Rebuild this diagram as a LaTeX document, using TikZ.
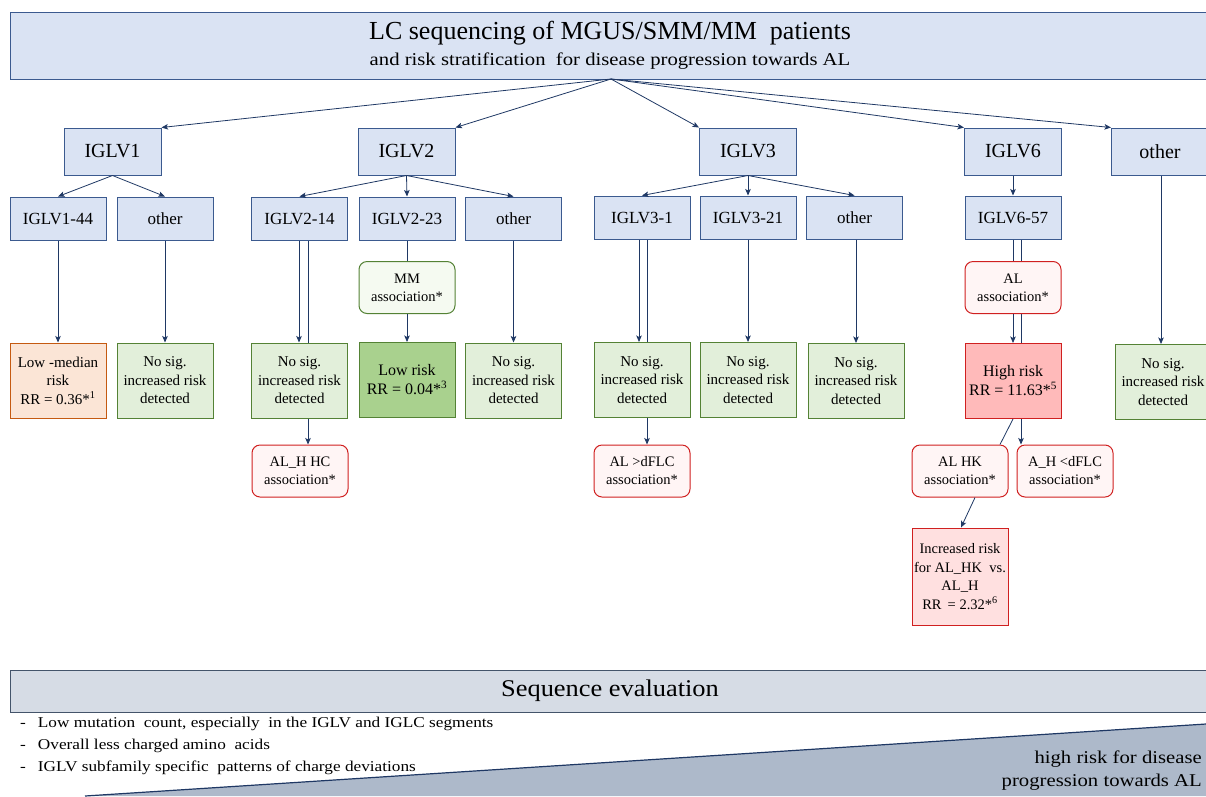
\documentclass[tikz,border=0pt]{standalone}
\usepackage{fontspec}
\setmainfont{Liberation Serif}
\newfontfamily\widefont[FakeStretch=1.15]{Liberation Serif}
\newfontfamily\midfont[FakeStretch=1.1]{Liberation Serif}
\usetikzlibrary{arrows.meta,backgrounds}
\definecolor{bfill}{HTML}{DAE3F3}
\definecolor{bbord}{HTML}{3B5A8F}
\definecolor{arrc}{HTML}{1F3864}
\definecolor{gfill}{HTML}{E2EFDA}
\definecolor{gbord}{HTML}{548235}
\definecolor{gdark}{HTML}{A9D18E}
\definecolor{gpale}{HTML}{F5FAF1}
\definecolor{ofill}{HTML}{FBE5D6}
\definecolor{obord}{HTML}{C55A11}
\definecolor{rbord}{HTML}{D02020}
\definecolor{rpale}{HTML}{FFF5F5}
\definecolor{rfill}{HTML}{FFBABA}
\definecolor{rlight}{HTML}{FFE0E0}
\definecolor{sfill}{HTML}{D6DCE5}
\definecolor{sbord}{HTML}{44546A}
\definecolor{tfill}{HTML}{ADB9CA}
\tikzset{
  arr/.style={draw=arrc, line width=0.8pt, -{Stealth[length=6.5pt,width=5.5pt,inset=1.5pt]}},
  ln/.style={draw=arrc, line width=0.8pt},
  lvone/.style={draw=bbord, fill=bfill, line width=1pt, minimum width=97pt, minimum height=47pt, inner sep=0pt, font=\fontsize{20}{22}\selectfont},
  lvtwo/.style={draw=bbord, fill=bfill, line width=1pt, minimum width=96pt, minimum height=43pt, inner sep=0pt, font=\fontsize{17}{19}\selectfont},
  resbox/.style={line width=1pt, minimum width=96pt, minimum height=75pt, inner sep=0pt, align=center, font=\fontsize{15}{18.5}\selectfont},
  nosig/.style={resbox, draw=gbord, fill=gfill},
  assoc/.style={draw=rbord, fill=rpale, line width=1pt, rounded corners=8pt, minimum width=96pt, minimum height=52pt, inner sep=0pt, align=center, font=\fontsize{14.5}{18}\selectfont},
  bullet/.style={anchor=base west, inner sep=0pt, font=\widefont\fontsize{15}{17}\selectfont},
}
\begin{document}
\begin{tikzpicture}[x=1pt,y=-1pt]
\useasboundingbox (0,0) rectangle (1206,796);
% title
\node[draw=bbord, fill=bfill, line width=1pt, minimum width=1200pt, minimum height=67pt, inner sep=0pt, align=center] (title) at (610,45.5)
  {\fontsize{26}{30}\selectfont LC sequencing of MGUS/SMM/MM\ \ patients\\[7pt]{\widefont\fontsize{18}{22}\selectfont and risk stratification\ \ for disease progression towards AL}};
% level 1
\node[lvone] (v1) at (112.5,151.5) {IGLV1};
\node[lvone] (v2) at (406.5,151.5) {IGLV2};
\node[lvone] (v3) at (748,151.5) {IGLV3};
\node[lvone] (v6) at (1013,151.5) {IGLV6};
\node[lvone] (vo) at (1160,151.5) {other};
% level 2
\node[lvtwo] (v144) at (58,218.5) {IGLV1-44};
\node[lvtwo] (v1o) at (165,218.5) {other};
\node[lvtwo] (v214) at (299.5,218.5) {IGLV2-14};
\node[lvtwo] (v223) at (407,218.5) {IGLV2-23};
\node[lvtwo] (v2o) at (513.5,218.5) {other};
\node[lvtwo] (v31) at (642,217.5) {IGLV3-1};
\node[lvtwo] (v321) at (748,217.5) {IGLV3-21};
\node[lvtwo] (v3o) at (854.5,217.5) {other};
\node[lvtwo] (v657) at (1013,217.5) {IGLV6-57};
% middle associations
\node[assoc, draw=gbord, fill=gpale] (mm) at (407,287.5) {MM\\association*};
\node[assoc] (ala) at (1013,287.5) {AL\\association*};
% results
\node[resbox, draw=obord, fill=ofill] (lm) at (58,380.5) {Low -median\\risk\\RR = 0.36*\textsuperscript{1}};
\node[nosig] (ns1) at (165,380.5) {No sig.\\increased risk\\detected};
\node[nosig] (ns214) at (299.5,380.5) {No sig.\\increased risk\\detected};
\node[resbox, draw=gbord, fill=gdark, font=\fontsize{16}{19}\selectfont] (lr) at (407,380) {Low risk\\RR = 0.04*\textsuperscript{3}};
\node[nosig] (ns2o) at (513.5,380.5) {No sig.\\increased risk\\detected};
\node[nosig] (ns31) at (642,380) {No sig.\\increased risk\\detected};
\node[nosig] (ns321) at (748,380) {No sig.\\increased risk\\detected};
\node[nosig] (ns3o) at (856,381) {No sig.\\increased risk\\detected};
\node[resbox, draw=rbord, fill=rfill, font=\fontsize{16}{19}\selectfont] (hr) at (1013,381) {High risk\\RR = 11.63*\textsuperscript{5}};
\node[nosig] (nso) at (1163,382) {No sig.\\increased risk\\detected};
% lower associations
\node[assoc] (alhhc) at (300,471) {AL\_H HC\\association*};
\node[assoc] (aldflc) at (642,471) {AL >dFLC\\association*};
\node[assoc] (alhk) at (960,471) {AL HK\\association*};
\node[assoc] (ahd) at (1065,471) {A\_H <dFLC\\association*};
\node[resbox, draw=rbord, fill=rlight, minimum height=97pt, font=\fontsize{14.5}{18.5}\selectfont] (ir) at (960,576.5) {Increased risk\\for AL\_HK\ \ vs.\\AL\_H\\RR\ \,= 2.32*\textsuperscript{6}};
% connectors from title
\coordinate (tb) at (611,79);
\draw[arr] (tb) -- (v1.north east);
\draw[arr] (tb) -- (v2.north east);
\draw[arr] (tb) -- (v3.north west);
\draw[arr] (tb) -- (v6.north west);
\draw[arr] (tb) -- (vo.north west);
% level1 -> level2
\draw[arr] (v1.south) -- (v144.north);
\draw[arr] (v1.south) -- (v1o.north);
\draw[arr] (v2.south) -- (v214.north);
\draw[arr] (v2.south) -- (v223.north);
\draw[arr] (v2.south) -- (v2o.north);
\draw[arr] (v3.south) -- (v31.north);
\draw[arr] (v3.south) -- (v321.north);
\draw[arr] (v3.south) -- (v3o.north);
\draw[arr] (v6.south) -- (v657.north);
% level2 -> results
\draw[arr] (v144.south) -- (lm.north);
\draw[arr] (v1o.south) -- (ns1.north);
\draw[arr] ([xshift=-0.5pt]v214.south) -- ([xshift=-0.5pt]v214.south |- ns214.north);
\draw[ln] (v223.south) -- (mm.north);
\draw[arr] (mm.south) -- (lr.north);
\draw[arr] (v2o.south) -- (ns2o.north);
\draw[arr] ([xshift=-3pt]v31.south) -- ([xshift=-3pt]v31.south |- ns31.north);
\draw[arr] (v321.south) -- (ns321.north);
\draw[arr] ([xshift=1.5pt]v3o.south) -- ([xshift=1.5pt]v3o.south |- ns3o.north);
\draw[ln] (v657.south) -- (ala.north);
\draw[arr] (ala.south) -- (hr.north);
\draw[arr] ([xshift=1pt]vo.south) -- ([xshift=1pt]vo.south |- nso.north);
\draw[ln] (hr.south) -- ([xshift=40pt]alhk.north);
\draw[arr] ([xshift=15pt]alhk.south) -- ([xshift=1pt]ir.north);
\begin{scope}[on background layer]
\draw[arr] ([xshift=8.5pt]v214.south) -- ([xshift=8.5pt]v214.south |- alhhc.north);
\draw[arr] ([xshift=5pt]v31.south) -- ([xshift=5pt]v31.south |- aldflc.north);
\draw[arr] ([xshift=8pt]v657.south) -- ([xshift=8pt]v657.south |- ahd.north);
\end{scope}
% sequence evaluation
\node[draw=sbord, fill=sfill, line width=1pt, minimum width=1200pt, minimum height=42pt, inner sep=0pt, font=\midfont\fontsize{24}{26}\selectfont] (seq) at (610,691) {Sequence evaluation};
\coordinate (ta) at (85,796);
\coordinate (tc) at (1206,724);
\coordinate (td) at (1206,796);
\fill[tfill] (ta) -- (tc) -- (td) -- cycle;
\draw[draw=arrc, line width=1.2pt] (ta) -- (tc);
\node[bullet] (b1) at (20,727) {-\hspace{12pt}Low mutation\ \ count, especially\ \ in the IGLV and IGLC segments};
\node[bullet] (b2) at (20,749) {-\hspace{12pt}Overall less charged amino\ \ acids};
\node[bullet] (b3) at (20,771) {-\hspace{12pt}IGLV subfamily specific\ \ patterns of charge deviations};
\node[anchor=east, align=right, inner sep=0pt, font=\widefont\fontsize{18}{23}\selectfont] (hrisk) at (1202,771) {high risk for disease\\progression towards AL};
\end{tikzpicture}
\end{document}
